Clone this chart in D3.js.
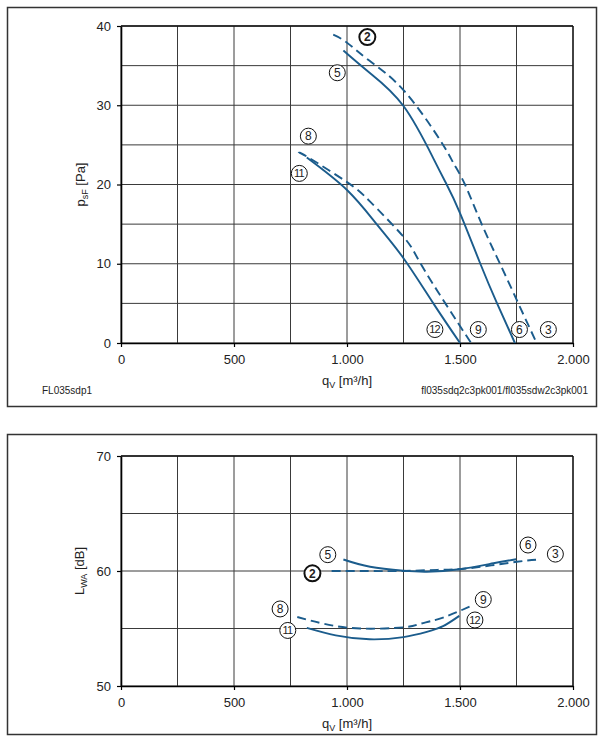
<!DOCTYPE html>
<html>
<head>
<meta charset="utf-8">
<script src="https://cdn.jsdelivr.net/npm/d3@7"></script>
<style>
  body { margin: 0; background: #fff; }
  text { font-family: "Liberation Sans", Arial, Helvetica, sans-serif; fill: #222; }
</style>
</head>
<body>
<svg id="chart"></svg>
<script>
// axis values
const flowTicks = [0, 500, 1000, 1500, 2000];
const flowGrid = [0, 250, 500, 750, 1000, 1250, 1500, 1750, 2000];
const pressureTicks = [0, 10, 20, 30, 40];
const pressureGrid = [0, 5, 10, 15, 20, 25, 30, 35, 40];
const soundTicks = [50, 60, 70];
const soundGrid = [50, 55, 60, 65, 70];

// pressure curves, [qV m3/h, psF Pa]
const pressure2 = [[939, 38.9], [1000, 37.9], [1100, 35.6], [1250, 31.9], [1412, 25.6], [1471, 22.7], [1522, 20], [1596, 15], [1677, 10], [1758, 5], [1839, 0]];
const pressure5 = [[984, 36.9], [1100, 34.1], [1250, 29.9], [1382, 23.3], [1441, 20], [1500, 16.4], [1590, 10], [1664, 5], [1743, 0]];
const pressure8 = [[785, 24.0], [830, 23.4], [1000, 20.3], [1100, 17.9], [1250, 13.4], [1320, 10.3], [1435, 5], [1549, 0]];
const pressure11 = [[822, 23.4], [1000, 19.3], [1131, 15], [1250, 10.7], [1382, 5], [1500, 0]];

// sound power curves, [qV m3/h, LWA dB]
const sound2 = [[932, 60.0], [1100, 60.0], [1250, 60.0], [1400, 60.1], [1544, 60.25], [1751, 60.8], [1854, 61.0]];
const sound5 = [[984, 61.0], [1102, 60.37], [1249, 60.03], [1353, 59.94], [1497, 60.15], [1648, 60.67], [1748, 61.02]];
const sound8 = [[780, 56.0], [900, 55.4], [1058, 55.0], [1250, 55.1], [1323, 55.4], [1425, 55.95], [1552, 57.0]];
const sound11 = [[822, 55.05], [950, 54.4], [1100, 54.06], [1250, 54.25], [1353, 54.7], [1425, 55.2], [1497, 56.1]];

// circled curve numbers, in data units
const pressureLabels = [
  { id: '2', q: 1090, v: 38.6, bold: true }, { id: '5', q: 957, v: 34.1 },
  { id: '8', q: 829, v: 26.1 }, { id: '11', q: 789, v: 21.4 },
  { id: '12', q: 1389, v: 1.7 }, { id: '9', q: 1581, v: 1.7 },
  { id: '6', q: 1763, v: 1.7 }, { id: '3', q: 1891, v: 1.7 }
];
const soundLabels = [
  { id: '5', q: 915, v: 61.42 }, { id: '2', q: 847, v: 59.8, bold: true },
  { id: '8', q: 704, v: 56.7 }, { id: '11', q: 738, v: 54.83 },
  { id: '6', q: 1801, v: 62.26 }, { id: '3', q: 1922, v: 61.47 },
  { id: '9', q: 1603, v: 57.52 }, { id: '12', q: 1566, v: 55.74 }
];

const blue = '#1b5c8c';
const svg = d3.select('#chart').attr('width', 604).attr('height', 745)
  .style('background', '#fff');

const locale = d3.formatLocale({ decimal: ',', thousands: '.', grouping: [3], currency: ['', ''] });
const fmt = locale.format(',');

const x = d3.scaleLinear().domain([0, 2000]).range([121, 573]);

// outer frames
svg.append('rect').attr('x', 7.5).attr('y', 7.5).attr('width', 589).attr('height', 399)
  .attr('fill', 'none').attr('stroke', '#333').attr('stroke-width', 1.5);
svg.append('rect').attr('x', 7.5).attr('y', 434.5).attr('width', 589).attr('height', 300)
  .attr('fill', 'none').attr('stroke', '#333').attr('stroke-width', 1.5);

function panel(o) {
  const y = d3.scaleLinear().domain(o.domain).range(o.range);
  const g = svg.append('g');

  g.selectAll('.vg').data(flowGrid).join('line')
    .attr('x1', d => x(d)).attr('x2', d => x(d))
    .attr('y1', y.range()[0]).attr('y2', y.range()[1])
    .attr('stroke', '#3a3a3a').attr('stroke-width', 1);
  g.selectAll('.hg').data(o.grid).join('line')
    .attr('x1', x(0)).attr('x2', x(2000))
    .attr('y1', d => y(d)).attr('y2', d => y(d))
    .attr('stroke', '#3a3a3a').attr('stroke-width', 1);

  const xAxis = d3.axisBottom(x).tickValues(flowTicks).tickFormat(fmt)
    .tickSizeInner(4).tickSizeOuter(0).tickPadding(8);
  const yAxis = d3.axisLeft(y).tickValues(o.ticks)
    .tickSizeInner(4).tickSizeOuter(0).tickPadding(6);

  const gx = g.append('g').attr('transform', `translate(0,${y.range()[0]})`).call(xAxis);
  const gy = g.append('g').attr('transform', `translate(${x(0)},0)`).call(yAxis);
  [gx, gy].forEach(a => {
    a.select('.domain').attr('stroke', '#000').attr('stroke-width', 1.6);
    a.selectAll('.tick line').attr('stroke', '#000').attr('stroke-width', 1.2);
    a.selectAll('.tick text').style('font-size', '13px').style('font-family', '"Liberation Sans", Arial, sans-serif').attr('fill', '#222');
  });
  // plot border top/right
  g.append('line').attr('x1', x(0)).attr('x2', x(2000)).attr('y1', y.range()[1]).attr('y2', y.range()[1])
    .attr('stroke', '#111').attr('stroke-width', 1.3);
  g.append('line').attr('x1', x(2000)).attr('x2', x(2000)).attr('y1', y.range()[0]).attr('y2', y.range()[1])
    .attr('stroke', '#111').attr('stroke-width', 1.3);

  const line = d3.line().x(d => x(d[0])).y(d => y(d[1])).curve(d3.curveNatural);
  g.selectAll('.curve').data(o.curves).join('path')
    .attr('d', d => line(d.pts))
    .attr('fill', 'none')
    .attr('stroke', blue)
    .attr('stroke-width', 1.9)
    .attr('stroke-dasharray', d => d.dashed ? '9,5' : null);

  const lab = g.selectAll('.lab').data(o.labels).join('g')
    .attr('transform', d => `translate(${x(d.q)},${y(d.v)})`);
  lab.append('circle').attr('r', 8).attr('fill', '#fff')
    .attr('stroke', '#111').attr('stroke-width', d => d.bold ? 2 : 1);
  lab.append('text').text(d => d.id)
    .attr('text-anchor', 'middle').attr('dy', '0.36em')
    .style('font-size', d => d.id.length > 1 ? '11px' : '12px')
    .style('font-weight', d => d.bold ? 'bold' : 'normal')
    .style('letter-spacing', d => d.id.length > 1 ? '-0.8px' : null)
    .attr('dx', d => d.id.length > 1 ? -0.4 : 0);

  // x title
  const base = y.range()[0];
  const xt = g.append('text').attr('x', x(1000)).attr('y', base + 42)
    .attr('text-anchor', 'middle').style('font-size', '13px');
  xt.append('tspan').text('q');
  xt.append('tspan').text('V').attr('dy', 3).style('font-size', '9px');
  xt.append('tspan').text(' [m³/h]').attr('dy', -3);

  // y title
  const yt = g.append('text')
    .attr('transform', `translate(${o.titleX},${(y.range()[0] + y.range()[1]) / 2}) rotate(-90)`)
    .attr('text-anchor', 'middle').style('font-size', '13px');
  yt.append('tspan').text(o.title);
  yt.append('tspan').text(o.sub).attr('dy', 3).style('font-size', '9px');
  yt.append('tspan').text(o.unit).attr('dy', -3);
}

panel({
  domain: [0, 40], range: [343, 26], grid: pressureGrid, ticks: pressureTicks,
  title: 'p', sub: 'sF', unit: ' [Pa]', titleX: 85,
  curves: [
    { pts: pressure2, dashed: true }, { pts: pressure5 },
    { pts: pressure8, dashed: true }, { pts: pressure11 }
  ],
  labels: pressureLabels
});

panel({
  domain: [50, 70], range: [686, 456], grid: soundGrid, ticks: soundTicks,
  title: 'L', sub: 'WA', unit: ' [dB]', titleX: 84,
  curves: [
    { pts: sound2, dashed: true }, { pts: sound5 },
    { pts: sound8, dashed: true }, { pts: sound11 }
  ],
  labels: soundLabels
});

svg.append('text').attr('x', 42).attr('y', 394).style('font-size', '10px').text('FL035sdp1');
svg.append('text').attr('x', 588).attr('y', 394).attr('text-anchor', 'end')
  .style('font-size', '10px').text('fl035sdq2c3pk001/fl035sdw2c3pk001');
</script>
</body>
</html>
